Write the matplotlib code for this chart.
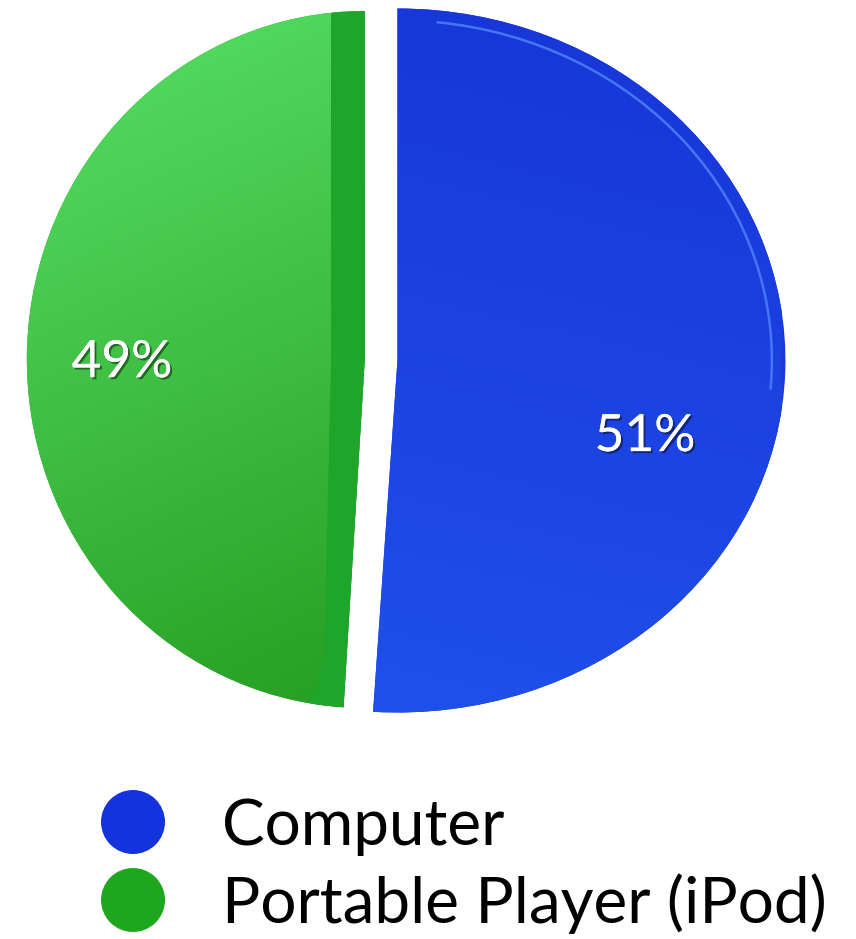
import numpy as np
import matplotlib.pyplot as plt
from matplotlib.patches import Polygon, Arc, Circle
from matplotlib.transforms import Affine2D
import matplotlib.patheffects as pe

labels = ["Computer", "Portable Player (iPod)"]
shares = [51, 49]
pct_labels = ["51%", "49%"]
base_colors = ["#1b37da", "#27b336"]

plt.rcParams['font.family'] = ['Lato', 'DejaVu Sans']

fig = plt.figure(figsize=(8.56, 9.39), dpi=100)

# pie area: whole figure, 365 px per unit across, 352 px per unit down
ax = fig.add_axes([0, 0, 1, 1])
explode = [0.045, 0.045]
wedges, _ = ax.pie(shares, startangle=90, counterclock=False, explode=explode,
                   colors=base_colors, radius=1.0, frame=True)
ax.set_xlim(-380 / 365, (856 - 380) / 365)
ax.set_ylim(-(939 - 360) / 352, 360 / 352)
ax.set_aspect("auto")
ax.axis("off")

# the nearer (blue) slice looks a bit wider than the far (green) one
stretch = [Affine2D().scale(1.063, 1.0), Affine2D().scale(0.926, 0.99)]
for w, s in zip(wedges, stretch):
    w.set_transform(s + ax.transData)

# soft gradient fills clipped to each wedge
yy, xx = np.mgrid[0:1:200j, 0:1:200j]
blue_top = np.array([0.09, 0.20, 0.84])
blue_bot = np.array([0.13, 0.33, 0.93])
t = (yy * 0.8 + (1 - xx) * 0.2)[..., None]
blue_img = blue_top * (1 - t) + blue_bot * t
green_light = np.array([0.36, 0.90, 0.42])
green_dark = np.array([0.12, 0.58, 0.09])
g = np.clip(yy * 0.75 + xx * 0.35, 0, 1)[..., None]
green_img = green_light * (1 - g) + green_dark * g

for w, img in zip(wedges, [blue_img, green_img]):
    w.set_edgecolor("none")
    im = ax.imshow(img, extent=(-1.1, 1.1, -1.1, 1.1), origin="upper",
                   aspect="auto", zorder=w.get_zorder() + 0.1)
    im.set_clip_path(w)

# darker cut face along the green slice's straight edge
gx = -explode[1]
face = Polygon([(gx - 0.10, 1.1), (gx + 0.01, 1.1), (gx + 0.01, 0.0),
                (gx - 0.06, -1.1), (gx - 0.20, -1.1), (gx - 0.12, -0.85),
                (gx - 0.10, 0.0)],
               closed=True, facecolor="#1fa52a", edgecolor="none", zorder=3,
               transform=stretch[1] + ax.transData)
ax.add_patch(face)
face.set_clip_path(wedges[1])

# light rim highlight on the blue slice
rim = Arc((explode[0], 0.0), 1.93, 1.93, theta1=-5, theta2=84,
          color="#4576f5", lw=1.8, zorder=3,
          transform=stretch[0] + ax.transData)
ax.add_patch(rim)
rim.set_clip_path(wedges[0])

shadow = [pe.withSimplePatchShadow(offset=(1.5, -1.5), shadow_rgbFace="black", alpha=0.45),
          pe.Normal()]
ax.text(0.726, -0.219, pct_labels[0], color="white", fontsize=37,
        ha="center", va="center", zorder=5, path_effects=shadow)
ax.text(-0.707, -0.009, pct_labels[1], color="white", fontsize=37,
        ha="center", va="center", zorder=5, path_effects=shadow)

# legend
lg = fig.add_axes([0, 0, 1, 188 / 939])
lg.set_xlim(0, 856)
lg.set_ylim(0, 188)
lg.axis("off")
legend_colors = ["#1433dc", "#1ea61f"]
for i, (lab, col) in enumerate(zip(labels, legend_colors)):
    cy = 117 - i * 78
    lg.add_patch(Circle((133, cy), 32, facecolor=col, edgecolor="none"))
    lg.text(222, cy - 23, lab, fontsize=46, color="black", ha="left", va="baseline")

fig.savefig("out.png", dpi=100, facecolor="white")
